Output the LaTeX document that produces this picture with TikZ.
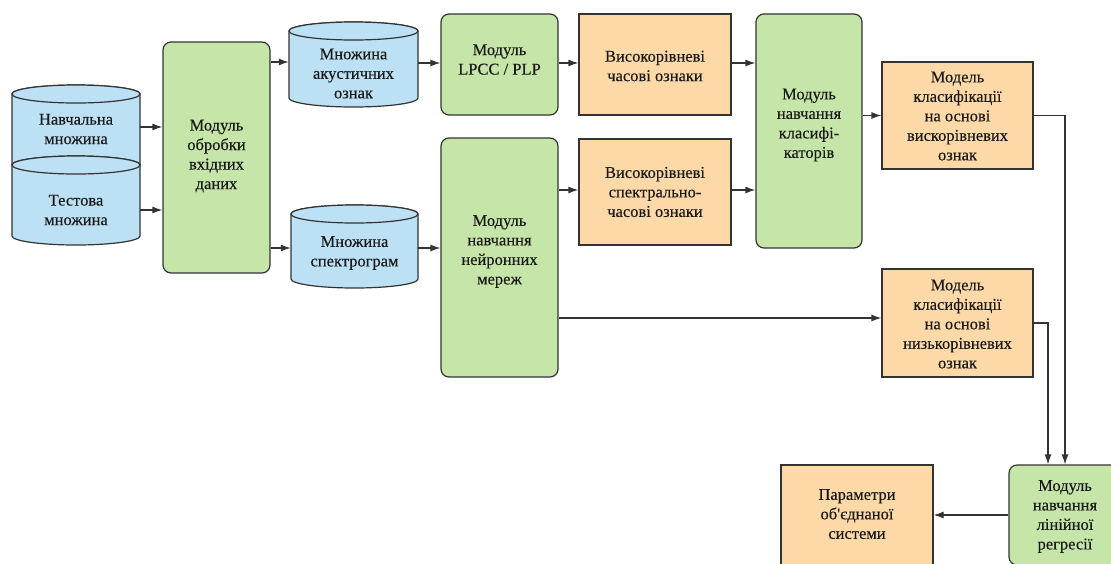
\documentclass[tikz,border=0pt]{standalone}
\usepackage{fontspec}
\setmainfont{Liberation Serif}[FakeBold=0.25]
\usetikzlibrary{arrows.meta,calc}
\definecolor{gfill}{HTML}{C6E5A8}
\definecolor{bfill}{HTML}{BDE1F4}
\definecolor{ofill}{HTML}{FDD9A8}
\definecolor{edge}{HTML}{333333}
\begin{document}
\begin{tikzpicture}[x=1pt,y=1pt,
  box/.style={draw=edge, line width=1.2pt, inner sep=0pt},
  gbox/.style={box, fill=gfill, rounded corners=8pt},
  obox/.style={box, fill=ofill},
  cyl/.style={draw=edge, line width=1.2pt, fill=bfill},
  txt/.style={align=center, font=\fontsize{16.5}{19.5}\selectfont, inner sep=0pt, text=black!90},
  arr/.style={draw=edge, line width=1.2pt, -{Latex[length=10pt,width=7pt]}}]
\useasboundingbox (0,0) rectangle (1111,-563);
\clip (0,0) rectangle (1111,-563);

% cylinders
\filldraw[cyl] (12,-94) -- (12,-165) arc[start angle=180,end angle=360,x radius=64pt,y radius=9pt] -- (140,-94) arc[start angle=0,end angle=180,x radius=64pt,y radius=9pt] -- cycle;
\draw[cyl] (76,-94) ellipse[x radius=64pt, y radius=9pt];
\filldraw[cyl] (12,-165) -- (12,-236) arc[start angle=180,end angle=360,x radius=64pt,y radius=9pt] -- (140,-165) arc[start angle=0,end angle=180,x radius=64pt,y radius=9pt] -- cycle;
\draw[cyl] (76,-165) ellipse[x radius=64pt, y radius=9pt];

\filldraw[cyl] (289,-31) -- (289,-98) arc[start angle=180,end angle=360,x radius=64.5pt,y radius=9pt] -- (418,-31) arc[start angle=0,end angle=180,x radius=64.5pt,y radius=9pt] -- cycle;
\draw[cyl] (353.5,-31) ellipse[x radius=64.5pt, y radius=9pt];

\filldraw[cyl] (291,-214) -- (291,-279) arc[start angle=180,end angle=360,x radius=63.5pt,y radius=9pt] -- (418,-214) arc[start angle=0,end angle=180,x radius=63.5pt,y radius=9pt] -- cycle;
\draw[cyl] (354.5,-214) ellipse[x radius=63.5pt, y radius=9pt];

\node[txt, minimum width=128pt] (train) at (76,-129) {Навчальна\\множина};
\node[txt, minimum width=128pt] (test) at (76,-210) {Тестова\\множина};
\node[txt, minimum width=129pt] (acoustic) at (353.5,-73.5) {Множина\\акустичних\\ознак};
\node[txt, minimum width=127pt] (spectro) at (354.5,-253) {Множина\\спектрограм};

% boxes
\node[gbox, minimum width=107pt, minimum height=231pt] (preproc) at (216.5,-157.5) {};
\node[gbox, minimum width=117pt, minimum height=101pt] (lpcc) at (499.5,-64.5) {};
\node[obox, minimum width=152pt, minimum height=101pt] (o1) at (655,-64.5) {};
\node[obox, minimum width=152pt, minimum height=106pt] (o2) at (655,-192) {};
\node[gbox, minimum width=106pt, minimum height=234pt] (clf) at (809,-131) {};
\node[gbox, minimum width=117pt, minimum height=239pt] (nn) at (499.5,-257.5) {};
\node[obox, minimum width=151pt, minimum height=107pt] (mhigh) at (957.5,-115.5) {};
\node[obox, minimum width=151pt, minimum height=108pt] (mlow) at (957.5,-323) {};
\node[gbox, minimum width=112pt, minimum height=100pt] (reg) at (1065,-515) {};
\node[obox, minimum width=152pt, minimum height=100pt] (params) at (857,-515) {};

% texts
\node[txt] (preproct) at (216.5,-156) {Модуль\\обробки\\вхідних\\даних};
\node[txt] (lpcct) at (499.5,-59.5) {Модуль\\LPCC / PLP};
\node[txt] (o1t) at (655,-66) {Високорівневі\\часові ознаки};
\node[txt] (o2t) at (655,-192) {Високорівневі\\спектрально-\\часові ознаки};
\node[txt] (clft) at (809,-125) {Модуль\\навчання\\класифі-\\каторів};
\node[txt] (nnt) at (499.5,-251.5) {Модуль\\навчання\\нейронних\\мереж};
\node[txt] (mhight) at (957.5,-116) {Модель\\класифікації\\на основі\\вискорівневих\\ознак};
\node[txt] (mlowt) at (957.5,-324) {Модель\\класифікації\\на основі\\низькорівневих\\ознак};
\node[txt] (regt) at (1065,-516.5) {Модуль\\навчання\\лінійної\\регресії};
\node[txt] (paramst) at (857,-514) {Параметри\\об\textquotesingle{}єднаної\\системи};

% connectors
\draw[arr] ([yshift=2pt]train.east) -- ([yshift=2pt]train.east -| preproc.west);
\draw[arr] (test.east) -- (test.east -| preproc.west);
\draw[arr] ([yshift=11.5pt]acoustic.west -| preproc.east) -- ([yshift=11.5pt]acoustic.west);
\draw[arr] ([yshift=5pt]spectro.west -| preproc.east) -- ([yshift=5pt]spectro.west);
\draw[arr] ([yshift=10.5pt]acoustic.east) -- ([yshift=10.5pt]acoustic.east -| lpcc.west);
\draw[arr] ([yshift=5pt]spectro.east) -- ([yshift=5pt]spectro.east -| nn.west);
\draw[arr] ([yshift=1.5pt]lpcc.east) -- ([yshift=1.5pt]lpcc.east -| o1.west);
\draw[arr] ([yshift=1.5pt]o1.east) -- ([yshift=1.5pt]o1.east -| clf.west);
\draw[arr] ([yshift=2pt]o2.west -| nn.east) -- ([yshift=2pt]o2.west);
\draw[arr] ([yshift=2pt]o2.east) -- ([yshift=2pt]o2.east -| clf.west);
\draw[arr] (mhigh.west -| clf.east) -- (mhigh.west);
\draw[arr] ([yshift=5pt]mlow.west -| nn.east) -- ([yshift=5pt]mlow.west);
\draw[arr] (mhigh.east) -| (reg.north);
\draw[arr] (mlow.east) -| ([xshift=-17pt]reg.north);
\draw[arr] (reg.west) -- (params.east);
\end{tikzpicture}
\end{document}
